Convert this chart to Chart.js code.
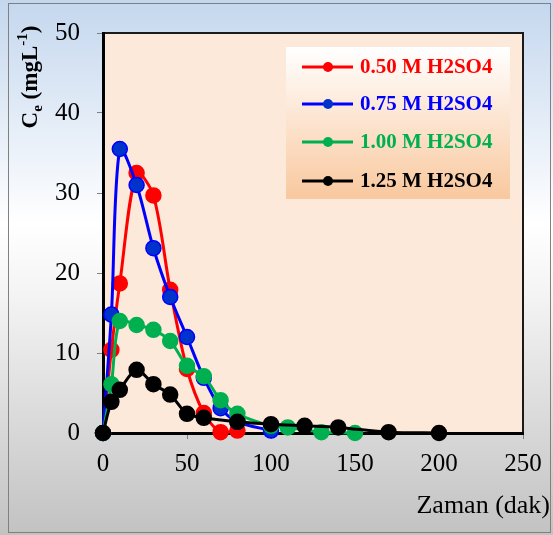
<!DOCTYPE html>
<html><head><meta charset="utf-8">
<script src="https://cdn.jsdelivr.net/npm/chart.js@4"></script>
<style>html,body{margin:0;padding:0;background:#fff}#wrap{width:553px;height:535px;position:relative}</style>
</head><body><div id="wrap"><canvas id="c" width="553" height="535"></canvas></div>
<script>
const seriesLabels = ['0.50 M H2SO4', '0.75 M H2SO4', '1.00 M H2SO4', '1.25 M H2SO4'];
const t050 = [0, 5, 10, 20, 30, 40, 50, 60, 70, 80];
const c050 = [0, 10.4, 18.7, 32.5, 29.7, 17.9, 8.0, 2.5, 0.1, 0.3];
const t075 = [0, 5, 10, 20, 30, 40, 50, 60, 70, 80, 100];
const c075 = [0, 14.8, 35.5, 31.0, 23.1, 17.0, 12.0, 6.9, 3.1, 1.4, 0.3];
const t100 = [0, 5, 10, 20, 30, 40, 50, 60, 70, 80, 100, 110, 130, 150];
const c100 = [0, 6.1, 14.0, 13.5, 12.9, 11.5, 8.4, 7.1, 4.1, 2.4, 0.9, 0.7, 0.1, 0.0];
const t125 = [0, 5, 10, 20, 30, 40, 50, 60, 80, 100, 120, 140, 170, 200];
const c125 = [0, 3.9, 5.4, 7.9, 6.1, 4.8, 2.4, 1.9, 1.4, 1.1, 0.9, 0.7, 0.1, 0.0];
const xTickValues = [0, 50, 100, 150, 200, 250];
const yTickValues = [0, 10, 20, 30, 40, 50];
const xTitle = 'Zaman (dak)';
const yTitleParts = ['C', 'e', ' (mgL', '-1', ')'];

const lineColors = ['#FF0000', '#0000FF', '#00B050', '#000000'];
const pointFills = ['#FF0000', '#0033CC', '#00B050', '#000000'];

function pts(xs, ys) { return xs.map((x, i) => ({ x: x, y: ys[i] })); }
const allData = [pts(t050, c050), pts(t075, c075), pts(t100, c100), pts(t125, c125)];

const serif = "'Liberation Serif', 'Times New Roman', serif";

const datasets = allData.map((d, i) => ({
  label: seriesLabels[i],
  data: d,
  showLine: true,
  borderColor: lineColors[i],
  backgroundColor: pointFills[i],
  pointBackgroundColor: pointFills[i],
  pointBorderColor: lineColors[i],
  pointBorderWidth: 1.5,
  pointRadius: 7.5,
  borderWidth: 3,
  tension: 0.3,
  clip: false,
  order: 3 - i
}));

const decor = {
  id: 'decor',
  beforeDraw(chart) {
    const ctx = chart.ctx, W = chart.width, H = chart.height;
    ctx.save();
    const g = ctx.createLinearGradient(0, 0, 0, H);
    g.addColorStop(0, '#C4D7EE');
    g.addColorStop(0.42, '#FFFFFF');
    g.addColorStop(0.55, '#F4F4F4');
    g.addColorStop(1, '#C2C2C2');
    ctx.fillStyle = g;
    ctx.fillRect(0, 0, W, H);
    ctx.strokeStyle = '#808080';
    ctx.lineWidth = 1;
    ctx.strokeRect(8.5, 3.5, W - 11, H - 6);
    const a = chart.chartArea;
    ctx.fillStyle = '#FDE9D9';
    ctx.fillRect(a.left, a.top, a.right - a.left, a.bottom - a.top);
    ctx.strokeStyle = '#1a1a1a';
    ctx.lineWidth = 2;
    ctx.beginPath();
    ctx.moveTo(a.left, a.top);
    ctx.lineTo(a.right, a.top);
    ctx.lineTo(a.right, a.bottom);
    ctx.stroke();
    ctx.restore();
  },
  afterDraw(chart) {
    const ctx = chart.ctx;
    ctx.save();
    // Legend box
    const lx = 286, ly = 47, lw = 224, lh = 152;
    const lg = ctx.createLinearGradient(0, ly, 0, ly + lh);
    lg.addColorStop(0, '#FFFFFF');
    lg.addColorStop(1, '#F9C89E');
    ctx.fillStyle = lg;
    ctx.fillRect(lx, ly, lw, lh);
    const rows = [67, 104, 142, 181];
    ctx.font = 'bold 21px ' + serif;
    ctx.textBaseline = 'middle';
    ctx.textAlign = 'left';
    chart.data.datasets.forEach((ds, i) => {
      const y = rows[i];
      ctx.strokeStyle = lineColors[i];
      ctx.lineWidth = 3;
      ctx.beginPath();
      ctx.moveTo(302, y);
      ctx.lineTo(353, y);
      ctx.stroke();
      ctx.fillStyle = pointFills[i];
      ctx.beginPath();
      ctx.arc(328, y, 5, 0, Math.PI * 2);
      ctx.fill();
      ctx.fillStyle = lineColors[i];
      ctx.fillText(ds.label, 360, y + 1);
    });
    // X title
    ctx.fillStyle = '#000';
    ctx.font = '26px ' + serif;
    ctx.textAlign = 'right';
    ctx.textBaseline = 'alphabetic';
    ctx.fillText(xTitle, 550, 513);
    // Y title (rotated, with subscript and superscript)
    const big = 'bold 23px ' + serif, small = 'bold 15px ' + serif;
    const fonts = [big, small, big, small, big];
    const offs = [0, 5, 0, -10, 0];
    let total = 0;
    const widths = yTitleParts.map((p, i) => { ctx.font = fonts[i]; const w = ctx.measureText(p).width; total += w; return w; });
    ctx.translate(37, 77);
    ctx.rotate(-Math.PI / 2);
    ctx.textAlign = 'left';
    let x = -total / 2;
    yTitleParts.forEach((p, i) => {
      ctx.font = fonts[i];
      ctx.fillText(p, x, offs[i]);
      x += widths[i];
    });
    ctx.restore();
  }
};

new Chart(document.getElementById('c'), {
  type: 'scatter',
  data: { datasets: datasets },
  options: {
    responsive: false,
    devicePixelRatio: 1,
    animation: false,
    layout: { padding: { left: 0, top: 33, right: 30, bottom: 0 } },
    plugins: { legend: { display: false }, tooltip: { enabled: false } },
    scales: {
      x: {
        type: 'linear', min: 0, max: 250,
        afterBuildTicks(s) { s.ticks = xTickValues.map(v => ({ value: v })); },
        afterFit(s) { s.height = 102; },
        ticks: { font: { family: serif, size: 25 }, color: '#000', padding: 10, maxRotation: 0 },
        grid: { display: true, drawOnChartArea: false, drawTicks: true, tickLength: 6, color: '#808080', lineWidth: 1 },
        border: { display: true, color: '#000', width: 3 },
        title: { display: false }
      },
      y: {
        type: 'linear', min: 0, max: 50,
        afterBuildTicks(s) { s.ticks = yTickValues.map(v => ({ value: v })); },
        afterFit(s) { s.width = 103; },
        ticks: { font: { family: serif, size: 25 }, color: '#000', padding: 17 },
        grid: { display: true, drawOnChartArea: false, drawTicks: true, tickLength: 6, color: '#808080', lineWidth: 1 },
        border: { display: true, color: '#000', width: 3 },
        title: { display: false }
      }
    }
  },
  plugins: [decor]
});
</script></body></html>
